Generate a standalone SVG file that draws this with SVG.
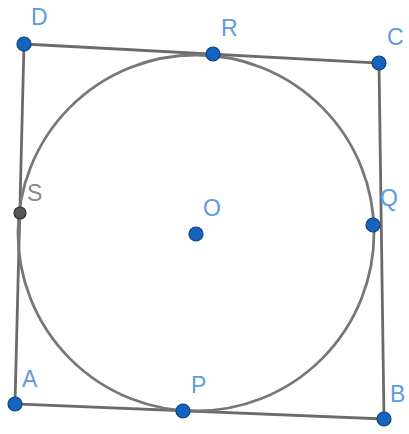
<svg xmlns="http://www.w3.org/2000/svg" width="409" height="434" viewBox="0 0 409 434">
<style>
.seg{stroke:#6b6b6b;stroke-width:2.8;fill:none;stroke-linecap:round}
.circ{stroke:#777;stroke-width:2.8;fill:none}
.pt{fill:#1565c0;stroke:#0d3f80;stroke-width:1.2}
.pt2{fill:#555;stroke:#333;stroke-width:1.2}
.lbl{font-family:"Liberation Sans",Arial,sans-serif;font-size:23px;fill:#5b9be0}
.lbl2{font-family:"Liberation Sans",Arial,sans-serif;font-size:23px;fill:#8a8a8a}
</style>
<rect width="409" height="434" fill="#fff"/>
<g id="connectors">
<polygon class="seg" points="24,44 379,63 384,419 15,404"/>
<circle id="circle" class="circ" cx="196" cy="233" r="178"/>
</g>
<g id="D"><circle class="pt" cx="24" cy="44" r="7"/><text class="lbl" x="31" y="25">D</text></g>
<g id="R"><circle class="pt" cx="213" cy="54" r="7"/><text class="lbl" x="221" y="36">R</text></g>
<g id="C"><circle class="pt" cx="379" cy="63" r="7"/><text class="lbl" x="387" y="45">C</text></g>
<g id="A"><circle class="pt" cx="15" cy="404" r="7"/><text class="lbl" x="22" y="387">A</text></g>
<g id="P"><circle class="pt" cx="183" cy="411" r="7"/><text class="lbl" x="191" y="393">P</text></g>
<g id="B"><circle class="pt" cx="384" cy="419" r="7"/><text class="lbl" x="390" y="402">B</text></g>
<g id="S"><circle class="pt2" cx="20" cy="213" r="6"/><text class="lbl2" x="27" y="201">S</text></g>
<g id="O"><circle class="pt" cx="196" cy="234" r="7"/><text class="lbl" x="203" y="216">O</text></g>
<g id="Q"><circle class="pt" cx="373" cy="225" r="7"/><text class="lbl" x="380" y="206">Q</text></g>
</svg>
